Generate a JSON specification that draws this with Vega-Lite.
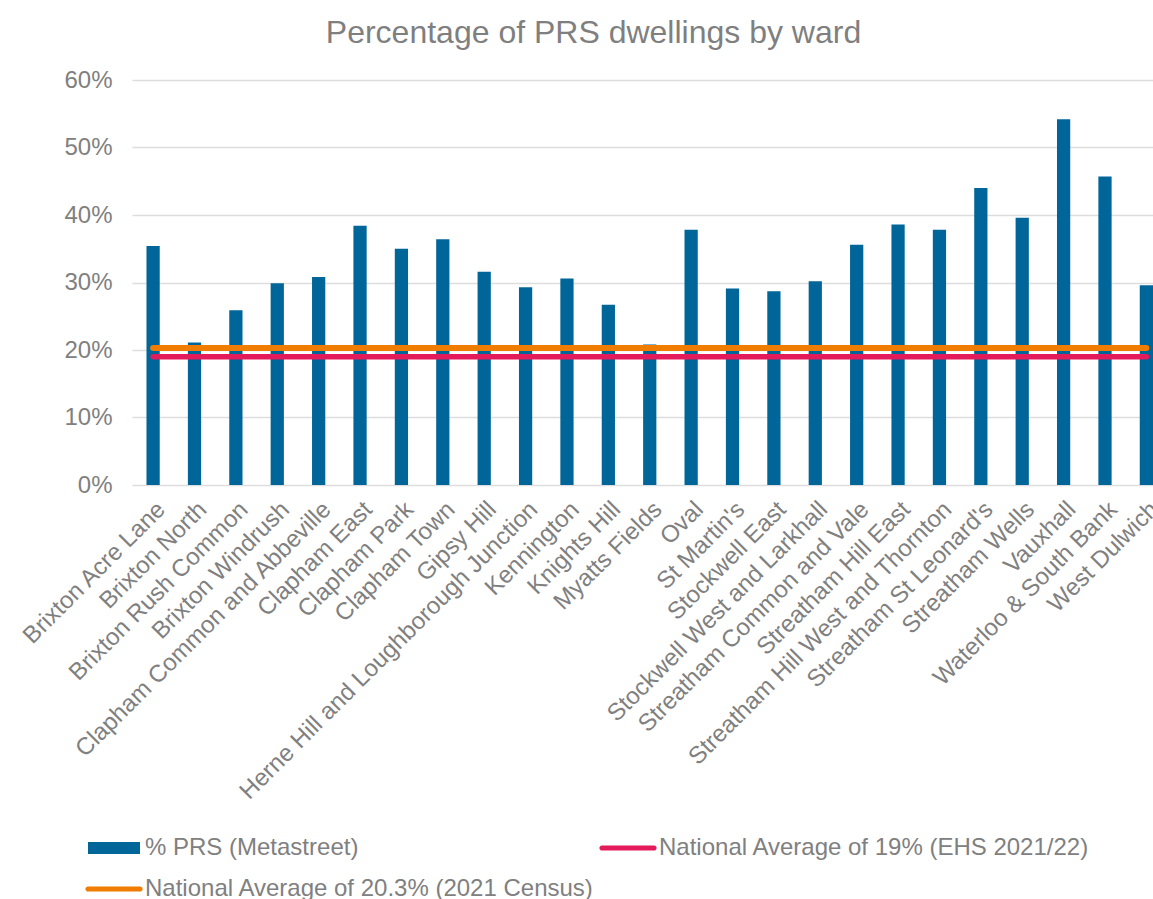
{
  "$schema": "https://vega.github.io/schema/vega-lite/v6.json",
  "width": 1021,
  "height": 405,
  "autosize": {"type": "none"},
  "padding": {"left": 132, "top": 80, "right": 0, "bottom": 414},
  "background": "white",
  "title": {
    "text": "Percentage of PRS dwellings by ward",
    "fontSize": 32,
    "font": "Liberation Sans",
    "fontWeight": "normal",
    "color": "#7f7f7f",
    "anchor": "middle",
    "dx": -49,
    "offset": 18
  },
  "config": {
    "font": "Liberation Sans",
    "view": {"stroke": null},
    "axis": {
      "labelFont": "Liberation Sans",
      "labelFontSize": 24,
      "labelColor": "#808080",
      "domain": false,
      "ticks": false,
      "title": null
    },
    "legend": {
      "labelFont": "Liberation Sans",
      "labelFontSize": 24,
      "labelColor": "#808080",
      "labelLimit": 0
    }
  },
  "data": {
    "values": [
      {"ward": "Brixton Acre Lane", "prs": 0.354, "ehs": 0.19, "census": 0.203},
      {"ward": "Brixton North", "prs": 0.211, "ehs": 0.19, "census": 0.203},
      {"ward": "Brixton Rush Common", "prs": 0.259, "ehs": 0.19, "census": 0.203},
      {"ward": "Brixton Windrush", "prs": 0.299, "ehs": 0.19, "census": 0.203},
      {"ward": "Clapham Common and Abbeville", "prs": 0.308, "ehs": 0.19, "census": 0.203},
      {"ward": "Clapham East", "prs": 0.384, "ehs": 0.19, "census": 0.203},
      {"ward": "Clapham Park", "prs": 0.350, "ehs": 0.19, "census": 0.203},
      {"ward": "Clapham Town", "prs": 0.364, "ehs": 0.19, "census": 0.203},
      {"ward": "Gipsy Hill", "prs": 0.316, "ehs": 0.19, "census": 0.203},
      {"ward": "Herne Hill and Loughborough Junction", "prs": 0.293, "ehs": 0.19, "census": 0.203},
      {"ward": "Kennington", "prs": 0.306, "ehs": 0.19, "census": 0.203},
      {"ward": "Knights Hill", "prs": 0.267, "ehs": 0.19, "census": 0.203},
      {"ward": "Myatts Fields", "prs": 0.208, "ehs": 0.19, "census": 0.203},
      {"ward": "Oval", "prs": 0.378, "ehs": 0.19, "census": 0.203},
      {"ward": "St Martin's", "prs": 0.291, "ehs": 0.19, "census": 0.203},
      {"ward": "Stockwell East", "prs": 0.287, "ehs": 0.19, "census": 0.203},
      {"ward": "Stockwell West and Larkhall", "prs": 0.302, "ehs": 0.19, "census": 0.203},
      {"ward": "Streatham Common and Vale", "prs": 0.356, "ehs": 0.19, "census": 0.203},
      {"ward": "Streatham Hill East", "prs": 0.386, "ehs": 0.19, "census": 0.203},
      {"ward": "Streatham Hill West and Thornton", "prs": 0.378, "ehs": 0.19, "census": 0.203},
      {"ward": "Streatham St Leonard's", "prs": 0.440, "ehs": 0.19, "census": 0.203},
      {"ward": "Streatham Wells", "prs": 0.396, "ehs": 0.19, "census": 0.203},
      {"ward": "Vauxhall", "prs": 0.542, "ehs": 0.19, "census": 0.203},
      {"ward": "Waterloo & South Bank", "prs": 0.457, "ehs": 0.19, "census": 0.203},
      {"ward": "West Dulwich", "prs": 0.296, "ehs": 0.19, "census": 0.203}
    ]
  },
  "encoding": {
    "x": {
      "field": "ward",
      "type": "nominal",
      "sort": null,
      "scale": {"paddingInner": 0.68, "paddingOuter": 0.175, "align": 1},
      "axis": {"labelAngle": -45, "labelPadding": 12, "labelLimit": 0}
    }
  },
  "layer": [
    {
      "mark": {"type": "bar"},
      "encoding": {
        "y": {
          "field": "prs",
          "type": "quantitative",
          "scale": {"domain": [0, 0.6]},
          "axis": {
            "format": ".0%",
            "values": [0, 0.1, 0.2, 0.3, 0.4, 0.5, 0.6],
            "gridColor": "#dddddd",
            "gridWidth": 1.5,
            "labelPadding": 20
          }
        },
        "color": {
          "datum": "% PRS (Metastreet)",
          "type": "nominal",
          "scale": {
            "domain": ["% PRS (Metastreet)", "National Average of 19% (EHS 2021/22)", "National Average of 20.3% (2021 Census)"],
            "range": ["#006699", "#E31B5A", "#F07D00"]
          },
          "legend": {
            "title": null,
            "orient": "none",
            "direction": "horizontal",
            "legendX": -38,
            "legendY": 748,
            "columns": 2,
            "columnPadding": 4,
            "rowPadding": 9,
            "symbolSize": 1600,
            "labelOffset": 11,
            "encode": {
              "symbols": {
                "update": {
                  "shape": {"signal": "datum.value === '% PRS (Metastreet)' ? 'M-1.3,-0.3H1.3V0.3H-1.3Z' : 'M-1.3,-0.13H1.3A0.13,0.13 0 0 1 1.3,0.13H-1.3A0.13,0.13 0 0 1 -1.3,-0.13Z'"},
                  "fill": {"signal": "scale('color', datum.value)"},
                  "fillOpacity": {"value": 1},
                  "strokeWidth": {"value": 0}
                }
              }
            }
          }
        }
      }
    },
    {
      "mark": {"type": "line", "strokeWidth": 5.5, "strokeCap": "round"},
      "encoding": {
        "y": {"field": "ehs", "type": "quantitative"},
        "color": {"datum": "National Average of 19% (EHS 2021/22)", "type": "nominal"}
      }
    },
    {
      "mark": {"type": "line", "strokeWidth": 6, "strokeCap": "round"},
      "encoding": {
        "y": {"field": "census", "type": "quantitative"},
        "color": {"datum": "National Average of 20.3% (2021 Census)", "type": "nominal"}
      }
    }
  ]
}
